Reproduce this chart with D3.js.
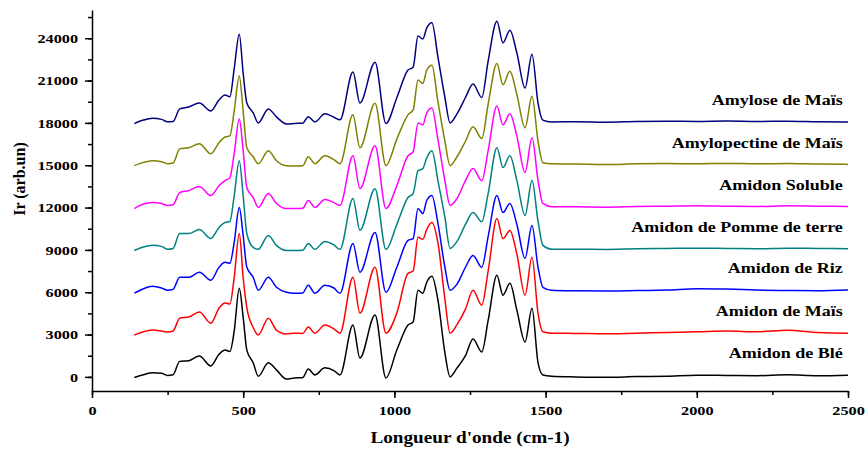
<!DOCTYPE html>
<html><head><meta charset="utf-8">
<script src="https://cdn.jsdelivr.net/npm/d3@7"></script>
<style>
body{margin:0;background:#fff}
svg{display:block}
text{font-family:"Liberation Serif","Times New Roman",serif;font-weight:bold;fill:#000}
</style>
</head><body>
<svg id="chart" width="868" height="450"></svg>
<script>
// ---------- DATA ----------
const wavenumbers = [140,170,200,230,250,268,290,320,355,393,420,440,456,470,487,500,512,533,550,583,610,643,670,697,715,737,770,800,820,863,886,936,972,1008,1045,1062,1078,1094,1107,1124,1144,1167,1184,1207,1235,1260,1289,1310,1339,1359,1382,1405,1432,1455,1475,1491,1520,1600,1700,1800,1900,2000,2100,2200,2300,2400,2500];

const seriesNames = ["Amidon de Blé","Amidon de Maïs","Amidon de Riz","Amidon de Pomme de terre","Amidon Soluble","Amylopectine de Maïs","Amylose de Maïs"];
const seriesColors = ["#000000","#ff0000","#0000ff","#008080","#ff00ff","#808000","#000080"];

const amidonBle = [-50,150,300,250,100, 150,1100,1150,1480,780, 1600,1900,1800,3200,6280, 4200,1900,1000,50,1000, 500,-150,-80,-50,560, 140,640,450,140,3670, 1340,4380,-70,1900,3670, 3900,6140,5930,6710,7130, 5440,1700,0,630,1500, 2680,1770,4000,7200,5790, 6630,4730,2470,4870,990, 140,50,0,-30,20, 50,120,100,80,150, 80,120];
const amidonMais = [2970,3200,3320,3250,3180, 3250,4160,4240,4590,3810, 4870,5230,5160,7000,10160, 7000,4900,3500,2970,4160, 3320,3040,3100,3080,3530, 3100,3670,3400,3100,7060, 4520,7770,3100,4520,7340, 7500,9890,9750,10450,10940, 9500,5500,3100,3700,4800, 6140,5080,7500,11220,9800, 10380,8700,5790,8470,4500, 3200,3100,3080,3050,3100, 3150,3200,3250,3200,3300, 3150,3100];
const amidonRiz = [5930,6250,6420,6300,6140, 6200,7060,7060,7410,6850, 7770,8120,8050,9500,12000, 10000,7770,7060,6140,7060, 6350,6000,5930,5950,6500, 5930,6500,6300,5930,9460, 7410,10240,6000,7770,9670, 9800,11930,11580,12500,12850, 10880,7770,6140,6570,7770, 8610,7770,9940,12850,11650, 12280,10800,8400,10730,7770, 6350,6140,6100,6080,6120, 6150,6250,6220,6150,6120, 6100,6150];
const amidonPomme = [8960,9200,9320,9250,9040, 9100,10160,10160,10440,9810, 10590,10940,11010,12800,15320, 12800,10160,9180,9040,10020, 9320,8960,8960,8980,9460, 9040,9600,9350,9040,12640, 10380,13340,9040,10800,12710, 12990,14610,14760,15530,16030, 13910,11300,9100,9600,10800, 11650,11000,12990,16240,14830, 15670,13910,11440,13910,11020, 9320,9050,9050,9030,9080, 9100,9120,9100,9080,9120, 9100,9080];
const amidonSoluble = [11930,12250,12360,12280,12150, 12200,13060,13200,13500,12850, 13550,13910,14120,15800,18280, 16000,13410,12710,12010,13000, 12290,11930,11930,11950,12500, 12010,12570,12350,12150,15670, 13340,16380,11930,13550,15670, 15950,18000,17860,18710,19060, 16820,13900,12150,12640,13910, 14760,13900,16030,19200,17860, 18640,17060,14480,16940,13910, 12290,12060,12050,12030,12080, 12100,12130,12100,12080,12120, 12100,12080];
const amylopectineMais = [14970,15200,15320,15250,15110, 15150,16160,16240,16520,15810, 16600,17000,17080,18800,21320, 18800,16240,15600,15110,16020, 15320,14970,14950,14970,15600, 15110,15670,15400,15110,18570, 16240,19390,14970,16850,18570, 18920,21040,20800,21740,22090, 19500,16700,14970,15600,16700, 17720,16890,19320,22210,20710, 21660,20000,17650,19880,16700, 15180,15100,15080,15050,15100, 15120,15100,15130,15100,15120, 15080,15060];
const amyloseMais = [17950,18200,18330,18250,18080, 18100,18990,19130,19410,18850, 19620,19980,19850,21800,24280, 21500,19410,18710,18000,18990, 18430,17930,17960,17980,18430, 18070,18640,18400,18220,21600, 19410,22300,17960,19780,21740, 21950,24160,23950,24730,25100, 22660,19800,18000,18640,19800, 20760,19800,22380,25200,23670, 24560,22950,20470,22870,19400, 18200,18070,18080,18050,18100, 18120,18100,18130,18100,18120, 18080,18060];

const seriesValues = [amidonBle, amidonMais, amidonRiz, amidonPomme, amidonSoluble, amylopectineMais, amyloseMais];

const xTickValues = [0,500,1000,1500,2000,2500];
const yTickValues = [0,3000,6000,9000,12000,15000,18000,21000,24000];
const xTitle = "Longueur d'onde (cm-1)";
const yTitle = "Ir (arb.un)";

// ---------- CHART ----------
const svg = d3.select("#chart");
const x = d3.scaleLinear().domain([0,2500]).range([92,848]);
const y = d3.scaleLinear().domain([-1000,26000]).range([391,10]);

function stretch(sel,k){
  sel.each(function(){
    const l=this.getComputedTextLength();
    this.setAttribute("textLength", l*k);
    this.setAttribute("lengthAdjust","spacingAndGlyphs");
  });
}

// minor ticks
const xMinor = d3.range(0,2501,250);
const yMinor = d3.range(0,26000,1500);
svg.append("g").attr("transform","translate(0,391)")
  .call(d3.axisBottom(x).tickValues(xMinor).tickSize(4).tickSizeOuter(0).tickFormat(""))
  .call(g=>g.select(".domain").remove())
  .call(g=>g.selectAll("line").attr("stroke","#000").attr("stroke-width",1.5));
svg.append("g").attr("transform","translate(92,0)")
  .call(d3.axisLeft(y).tickValues(yMinor).tickSize(4).tickSizeOuter(0).tickFormat(""))
  .call(g=>g.select(".domain").remove())
  .call(g=>g.selectAll("line").attr("stroke","#000").attr("stroke-width",1.5));

// major axes
const gx = svg.append("g").attr("transform","translate(0,391)")
  .call(d3.axisBottom(x).tickValues(xTickValues).tickSize(7).tickSizeOuter(0).tickPadding(8).tickFormat(d3.format("d")));
const gy = svg.append("g").attr("transform","translate(92,0)")
  .call(d3.axisLeft(y).tickValues(yTickValues).tickSize(7).tickSizeOuter(0).tickPadding(7).tickFormat(d3.format("d")));
[gx,gy].forEach(g=>{
  g.select(".domain").attr("stroke","#000").attr("stroke-width",1.5);
  g.selectAll("line").attr("stroke","#000").attr("stroke-width",1.5);
  g.selectAll("text").attr("font-family",null).attr("font-size",null)
    .style("font-size","13px").style("font-family","'Liberation Serif',serif").style("font-weight","bold");
  stretch(g.selectAll("text"),1.25);
});

// lines
const line = d3.line().x(d=>x(d[0])).y(d=>y(d[1])).curve(d3.curveMonotoneX);
seriesValues.forEach((vals,i)=>{
  const pts = wavenumbers.map((w,j)=>[w,vals[j]]);
  svg.append("path").datum(pts)
    .attr("fill","none").attr("stroke",seriesColors[i]).attr("stroke-width",1.5)
    .attr("stroke-linejoin","round").attr("d",line);
});

// series labels
seriesValues.forEach((vals,i)=>{
  const t = svg.append("text")
    .attr("x", x(2483)).attr("y", y(vals[vals.length-1] + 1430))
    .attr("text-anchor","end").attr("dominant-baseline","middle")
    .style("font-size","15px").text(seriesNames[i]);
  stretch(t,1.2);
});

// axis titles
const tx = svg.append("text").attr("x",470).attr("y",443).attr("text-anchor","middle")
  .style("font-size","16px").text(xTitle);
stretch(tx,1.2);
svg.append("text").attr("transform","translate(25,179) rotate(-90)").attr("text-anchor","middle")
  .style("font-size","16px").text(yTitle);
</script>
</body></html>
